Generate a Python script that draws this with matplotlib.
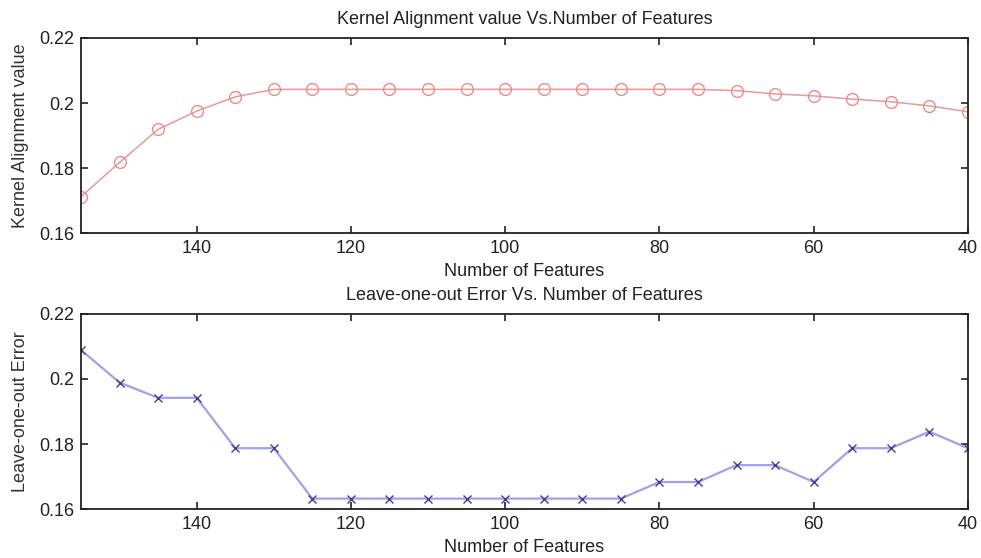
import matplotlib
matplotlib.use("Agg")
import matplotlib.pyplot as plt

plt.rcParams['font.family'] = ['Liberation Sans', 'DejaVu Sans']

features = [155, 150, 145, 140, 135, 130, 125, 120, 115, 110, 105, 100, 95, 90,
            85, 80, 75, 70, 65, 60, 55, 50, 45, 40]
kernel_alignment = [0.1712, 0.1817, 0.1919, 0.1975, 0.2019, 0.2042, 0.2042, 0.2042,
                    0.2042, 0.2042, 0.2042, 0.2042, 0.2042, 0.2042, 0.2042, 0.2042,
                    0.2042, 0.2038, 0.2028, 0.2022, 0.2012, 0.2004, 0.1991, 0.1973]
loo_error = [0.2089, 0.1989, 0.1942, 0.1942, 0.1787, 0.1787, 0.1632, 0.1632,
             0.1632, 0.1632, 0.1632, 0.1632, 0.1632, 0.1632, 0.1632, 0.1683,
             0.1683, 0.1735, 0.1735, 0.1683, 0.1787, 0.1787, 0.1838, 0.1787]
x_ticks = [140, 120, 100, 80, 60, 40]
y_ticks = [0.16, 0.18, 0.2, 0.22]
y_tick_labels = ['0.16', '0.18', '0.2', '0.22']

fig = plt.figure(figsize=(9.81, 5.58), dpi=100)
fs = 13

def style(ax):
    ax.set_xlim(155, 40)
    ax.set_ylim(0.16, 0.22)
    ax.set_xticks(x_ticks)
    ax.set_yticks(y_ticks)
    ax.set_yticklabels(y_tick_labels)
    ax.tick_params(direction='in', top=True, right=True, length=5, width=1.2,
                   labelsize=fs, colors='#222222', pad=5)
    for s in ax.spines.values():
        s.set_linewidth(1.3)
        s.set_color('#222222')

ax1 = fig.add_axes([0.0826, 0.5824, 0.904, 0.3495])
ax1.plot(features, kernel_alignment, color='#e79a9a', lw=1.1, marker='o',
         markersize=8.5, markerfacecolor='none', markeredgecolor='#f08a8a', markeredgewidth=1.0)
style(ax1)
ax1.set_title('Kernel Alignment value Vs.Number of Features', fontsize=fs, pad=10, color='#222222')
ax1.set_ylabel('Kernel Alignment value', fontsize=fs, color='#333333', labelpad=7)
ax1.set_xlabel('Number of Features', fontsize=fs, color='#222222', labelpad=4)

ax2 = fig.add_axes([0.0826, 0.0878, 0.904, 0.3495])
ax2.plot(features, loo_error, color='#a0a0ec', lw=1.6, marker='x',
         markersize=5.5, markeredgecolor='#404090', markeredgewidth=1.0)
style(ax2)
ax2.set_title('Leave-one-out Error Vs. Number of Features', fontsize=fs, pad=10, color='#222222')
ax2.set_ylabel('Leave-one-out Error', fontsize=fs, color='#333333', labelpad=7)
ax2.set_xlabel('Number of Features', fontsize=fs, color='#222222', labelpad=4)

fig.savefig('out.png', dpi=100)
